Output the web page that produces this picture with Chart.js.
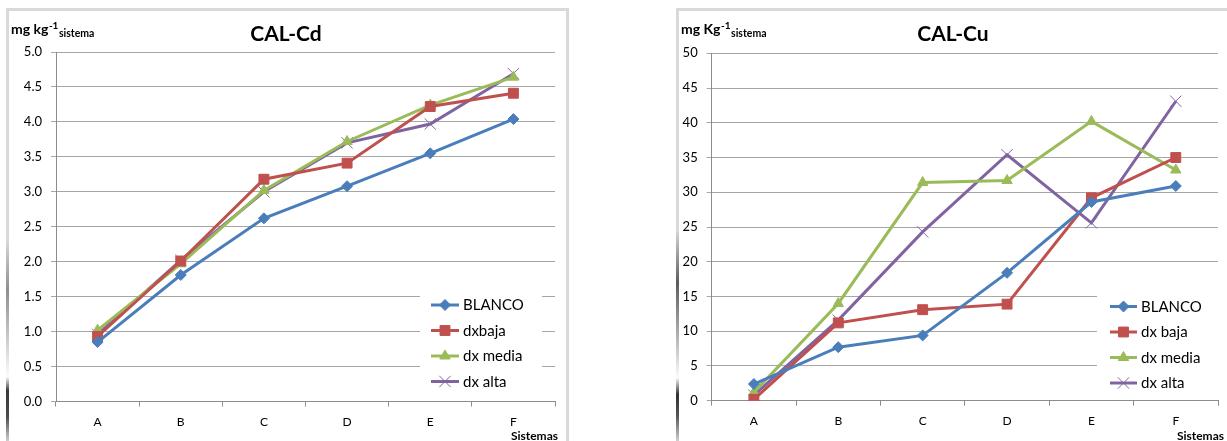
<!DOCTYPE html>
<html>
<head>
<meta charset="utf-8">
<script src="https://cdn.jsdelivr.net/npm/chart.js@4/dist/chart.umd.min.js"></script>
<style>
  html, body { margin: 0; padding: 0; background: #fff; }
  body { width: 1227px; height: 441px; position: relative; overflow: hidden; }
  .frame { position: absolute; border: 3px solid #d9d9d9; border-bottom: none; box-sizing: border-box; }
  #frameCd { left: 6px; top: 8px; width: 563px; height: 440px; }
  #frameCu { left: 676px; top: 8px; width: 560px; height: 440px; }
  .shade { position: absolute; width: 3px; }
  #shadeCd { left: 6px; top: 240px; height: 201px;
    background: linear-gradient(to bottom, rgba(0,0,0,0) 0%, rgba(80,80,80,0.55) 25%, rgba(255,255,255,0.9) 68%, rgba(40,40,40,0.9) 75%, rgba(60,60,60,0.9) 88%, rgba(200,200,200,0.6) 100%); }
  #shadeCu { left: 676px; top: 230px; height: 211px;
    background: linear-gradient(to bottom, rgba(0,0,0,0) 0%, rgba(60,60,60,0.8) 25%, rgba(150,150,150,0.6) 50%, rgba(255,255,255,0.9) 70%, rgba(30,30,30,0.9) 78%, rgba(70,70,70,0.9) 88%, rgba(200,200,200,0.6) 100%); }
  .box { position: absolute; }
  #boxCd { left: 9px; top: 11px; }
  #boxCu { left: 679px; top: 11px; }
</style>
</head>
<body>
<div class="frame" id="frameCd"></div>
<div class="frame" id="frameCu"></div>
<div class="shade" id="shadeCd"></div>
<div class="shade" id="shadeCu"></div>
<div class="box" id="boxCd"><canvas id="chartCd" width="555" height="430"></canvas></div>
<div class="box" id="boxCu"><canvas id="chartCu" width="548" height="430"></canvas></div>

<script>
// Sampling systems on the x axis
const categories = ['A', 'B', 'C', 'D', 'E', 'F'];
const seriesNamesCd = ['BLANCO', 'dxbaja', 'dx media', 'dx alta'];
const seriesNamesCu = ['BLANCO', 'dx baja', 'dx media', 'dx alta'];

// CAL-extractable Cd (mg kg-1)
const cdBlanco = [0.85, 1.81, 2.62, 3.08, 3.55, 4.04];
const cdBaja   = [0.93, 2.01, 3.18, 3.41, 4.22, 4.41];
const cdMedia  = [1.02, 1.97, 3.02, 3.72, 4.24, 4.64];
const cdAlta   = [0.96, 2.02, 3.00, 3.70, 3.97, 4.69];

// CAL-extractable Cu (mg kg-1)
const cuBlanco = [2.4, 7.7, 9.4, 18.4, 28.6, 30.9];
const cuBaja   = [0.2, 11.2, 13.1, 13.9, 29.2, 35.0];
const cuMedia  = [1.2, 14.0, 31.4, 31.7, 40.2, 33.2];
const cuAlta   = [0.8, 11.6, 24.3, 35.4, 25.6, 43.1];

// Value-axis ticks
const cdTicks = [0, 0.5, 1.0, 1.5, 2.0, 2.5, 3.0, 3.5, 4.0, 4.5, 5.0];
const cuTicks = [0, 5, 10, 15, 20, 25, 30, 35, 40, 45, 50];

const FONT = 'Lato, "Open Sans", "Noto Sans", sans-serif';

const seriesStyles = [
  { color: '#4a7ebb', pointStyle: 'rectRot', radius: 5.5, pointBorderWidth: 1 },
  { color: '#c0504d', pointStyle: 'rect', radius: 7, pointBorderWidth: 1 },
  { color: '#9bbb59', pointStyle: 'triangle', radius: 6, pointBorderWidth: 1 },
  { color: '#8064a2', pointStyle: 'crossRot', radius: 8, pointBorderWidth: 1 }
];

function buildDatasets(names, values) {
  return values.map((vals, i) => {
    const s = seriesStyles[i];
    return {
      label: names[i],
      data: vals,
      borderColor: s.color,
      backgroundColor: s.color,
      borderWidth: 3,
      pointStyle: s.pointStyle,
      pointRadius: s.radius,
      pointBorderWidth: s.pointBorderWidth,
      pointBackgroundColor: s.color,
      pointBorderColor: s.color,
      tension: 0
    };
  });
}

// Draws the title, unit label, axis name and the in-plot legend
const sheetText = {
  id: 'sheetText',
  afterDraw(chart, args, opts) {
    const ctx = chart.ctx;
    ctx.save();
    ctx.fillStyle = '#000';

    // title
    ctx.font = 'bold 21px ' + FONT;
    ctx.textAlign = 'center';
    ctx.textBaseline = 'middle';
    ctx.fillText(opts.title, opts.titleX, opts.titleY);

    // unit label with superscript and subscript
    ctx.textAlign = 'left';
    ctx.textBaseline = 'alphabetic';
    let x = opts.unitX;
    const base = opts.unitY;
    ctx.font = 'bold 14px ' + FONT;
    ctx.fillText(opts.unitMain, x, base);
    x += ctx.measureText(opts.unitMain).width + 0.5;
    ctx.font = 'bold 10px ' + FONT;
    ctx.fillText(opts.unitSup, x, base - 5);
    x += ctx.measureText(opts.unitSup).width + 0.5;
    ctx.font = 'bold 10.5px ' + FONT;
    ctx.fillText(opts.unitSub, x, base + 3);

    // x axis name
    ctx.font = 'bold 12px ' + FONT;
    ctx.textAlign = 'right';
    ctx.textBaseline = 'middle';
    ctx.fillText(opts.axisName, opts.axisNameX, opts.axisNameY);

    // legend
    const lg = opts.legend;
    ctx.fillStyle = '#fff';
    ctx.fillRect(lg.boxX, lg.boxY, lg.boxW, lg.boxH);
    chart.data.datasets.forEach((ds, i) => {
      const y = lg.firstY + i * lg.rowGap;
      ctx.strokeStyle = ds.borderColor;
      ctx.lineWidth = 3;
      ctx.beginPath();
      ctx.moveTo(lg.lineX0, y);
      ctx.lineTo(lg.lineX1, y);
      ctx.stroke();
      ctx.fillStyle = ds.pointBackgroundColor;
      ctx.strokeStyle = ds.pointBorderColor;
      ctx.lineWidth = ds.pointBorderWidth;
      Chart.helpers.drawPoint(ctx, {
        pointStyle: ds.pointStyle,
        radius: ds.pointRadius,
        borderWidth: ds.pointBorderWidth,
        rotation: 0
      }, (lg.lineX0 + lg.lineX1) / 2, y);
      ctx.fillStyle = '#000';
      ctx.font = '15px ' + FONT;
      ctx.textAlign = 'left';
      ctx.textBaseline = 'middle';
      ctx.fillText(ds.label, lg.textX, y + 0.5);
    });
    ctx.restore();
  }
};

function makeChart(canvasId, cfg) {
  return new Chart(document.getElementById(canvasId), {
    type: 'line',
    data: { labels: categories, datasets: buildDatasets(cfg.names, cfg.values) },
    plugins: [sheetText],
    options: {
      responsive: false,
      animation: false,
      devicePixelRatio: 1,
      layout: { padding: { left: 0, right: cfg.padRight, top: cfg.padTop, bottom: 0 } },
      plugins: {
        legend: { display: false },
        tooltip: { enabled: false },
        title: { display: false },
        sheetText: cfg.text
      },
      scales: {
        x: {
          type: 'category',
          offset: true,
          grid: { display: true, offset: true, drawOnChartArea: false, drawTicks: true, tickLength: 5, color: '#8c8c8c' },
          border: { display: true, color: '#8c8c8c', width: 1 },
          ticks: { padding: 8, color: '#000', maxRotation: 0, font: { family: FONT, size: 12 } },
          afterFit: (s) => { s.height = cfg.xHeight; }
        },
        y: {
          min: cfg.ticks[0],
          max: cfg.ticks[cfg.ticks.length - 1],
          afterBuildTicks: (s) => { s.ticks = cfg.ticks.map(v => ({ value: v })); },
          grid: { color: '#a6a6a6', tickLength: 5, lineWidth: 1 },
          border: { display: true, color: '#8c8c8c', width: 1 },
          ticks: {
            padding: 9,
            color: '#000',
            font: { family: FONT, size: 13 },
            callback: (v) => Number(v).toFixed(cfg.decimals)
          },
          afterFit: (s) => { s.width = cfg.yWidth; }
        }
      }
    }
  });
}

makeChart('chartCd', {
  names: seriesNamesCd,
  values: [cdBlanco, cdBaja, cdMedia, cdAlta],
  ticks: cdTicks,
  decimals: 1,
  padTop: 41,
  padRight: 6,
  yWidth: 47,
  xHeight: 39.5,
  text: {
    title: 'CAL-Cd', titleX: 277, titleY: 23,
    unitMain: 'mg kg', unitSup: '-1', unitSub: 'sistema', unitX: 2, unitY: 23,
    axisName: 'Sistemas', axisNameX: 549, axisNameY: 425,
    legend: { boxX: 411, boxY: 281, boxW: 122, boxH: 103, lineX0: 422, lineX1: 450, textX: 454, firstY: 294, rowGap: 25.5 }
  }
});

makeChart('chartCu', {
  names: seriesNamesCu,
  values: [cuBlanco, cuBaja, cuMedia, cuAlta],
  ticks: cuTicks,
  decimals: 0,
  padTop: 42.3,
  padRight: 7.7,
  yWidth: 32.7,
  xHeight: 40.3,
  text: {
    title: 'CAL-Cu', titleX: 274, titleY: 23,
    unitMain: 'mg Kg', unitSup: '-1', unitSub: 'sistema', unitX: 2, unitY: 23,
    axisName: 'Sistemas', axisNameX: 545, axisNameY: 425,
    legend: { boxX: 418, boxY: 283, boxW: 123, boxH: 101, lineX0: 431, lineX1: 458, textX: 462, firstY: 295.5, rowGap: 25.5 }
  }
});
</script>
</body>
</html>
